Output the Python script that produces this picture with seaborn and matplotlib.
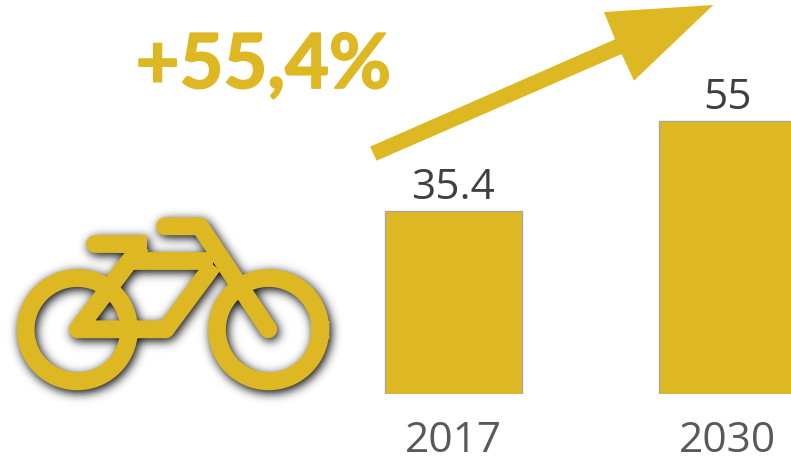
import numpy as np
import pandas as pd
import matplotlib
matplotlib.use("Agg")
import matplotlib.pyplot as plt
import matplotlib.patheffects as pe
import seaborn as sns

years = ["2017", "2030"]
values = [35.4, 55]
value_labels = ["35.4", "55"]
growth_label = "+55,4%"
baseline = -4.45          # the picture's bars do not start at zero

GOLD = "#DEB822"
W, H = 791, 461
sns.set_theme(style="white", rc={"font.family": ["Open Sans", "DejaVu Sans"]})

fig = plt.figure(figsize=(W / 100, H / 100), dpi=100)
ax = fig.add_axes([0, (H - 394) / H, 1, 394 / H])
df = pd.DataFrame({"year": years, "height": [v - baseline for v in values]})
sns.barplot(data=df, x="year", y="height", ax=ax, color=GOLD, saturation=1, width=0.5,
            bottom=baseline, edgecolor="#A6A6A6", linewidth=1)
px_per_x = 274
ax.set_xlim(-453 / px_per_x, (W - 453) / px_per_x)
ax.set_ylim(baseline, baseline + 394 / 4.592)
ax.set_xlabel("")
ax.set_ylabel("")
ax.set_yticks([])
ax.tick_params(axis="x", length=0, pad=18.5, labelsize=30.5, labelcolor="#595959")
sns.despine(ax=ax, left=True, bottom=True)
for i, (v, lab) in enumerate(zip(values, value_labels)):
    ax.annotate(lab, (i, v), xytext=(0, 1.5), textcoords="offset points", ha="center", va="bottom",
                fontsize=30.5, color="#404040")

# overlay in pixel coordinates
ov = fig.add_axes([0, 0, 1, 1], facecolor="none")
ov.set_xlim(0, W)
ov.set_ylim(H, 0)
ov.axis("off")


def draw_bike(a):
    lw = 17.8 * 0.72
    def P(pts):
        arr = np.array(pts, float) / 3 + np.array([0, 200])
        return arr[:, 0], arr[:, 1]
    for cx in (232, 806):
        t = np.linspace(0, 2 * np.pi, 200)
        x, y = P(np.c_[cx + 155 * np.cos(t), 389 + 155 * np.sin(t)])
        a.plot(x, y, color=GOLD, lw=lw, solid_capstyle="projecting")
    for pts, cap in [
        ([(286, 131), (400, 131)], "round"),
        ([(350, 131), (442, 131)], "butt"),
        ([(400, 182), (640, 182)], "butt"),
        ([(495, 79), (600, 79), (805, 388)], "round"),
        ([(425, 135), (233, 388), (497, 388), (640, 195)], "butt"),
    ]:
        x, y = P(pts)
        a.plot(x, y, color=GOLD, lw=lw, solid_capstyle=cap, solid_joinstyle="round")


# soft drop shadow of the bicycle
sf = plt.figure(figsize=(W / 100, H / 100), dpi=100, facecolor="white")
sa = sf.add_axes([0, 0, 1, 1])
sa.set_xlim(0, W)
sa.set_ylim(H, 0)
sa.axis("off")
draw_bike(sa)
sf.canvas.draw()
buf = np.asarray(sf.canvas.buffer_rgba())[:, :, 2].astype(float)
plt.close(sf)
mask = 1 - buf / 255
mask = mask / mask.max()
kx = np.arange(-20, 21)
k = np.exp(-kx ** 2 / (2 * 5.0 ** 2))
k /= k.sum()
blur = np.apply_along_axis(lambda r: np.convolve(r, k, mode="same"), 0, mask)
blur = np.apply_along_axis(lambda r: np.convolve(r, k, mode="same"), 1, blur)
rgba = np.zeros((H, W, 4))
rgba[:, :, 3] = np.clip(blur * 1.0, 0, 1)
ov.imshow(rgba, extent=(2, W + 2, H + 3, 3), aspect="auto", interpolation="bilinear", zorder=1)
ov.set_xlim(0, W)
ov.set_ylim(H, 0)
draw_bike(ov)

# growth arrow
arrow = np.array([(30, 440), (765, 118), (732, 36), (1060, 15), (822, 242), (785, 162), (50, 482)], float) / 3
arrow[:, 0] += 360
ov.fill(arrow[:, 0], arrow[:, 1], color=GOLD, lw=0, zorder=3)

ov.text(263.5, 88, growth_label, ha="center", va="baseline", fontsize=54.5, fontweight="bold",
        family=["Lato", "Open Sans"], color=GOLD,
        path_effects=[pe.withStroke(linewidth=1.3, foreground=GOLD)])

fig.savefig("out.png", dpi=100, facecolor="white")
